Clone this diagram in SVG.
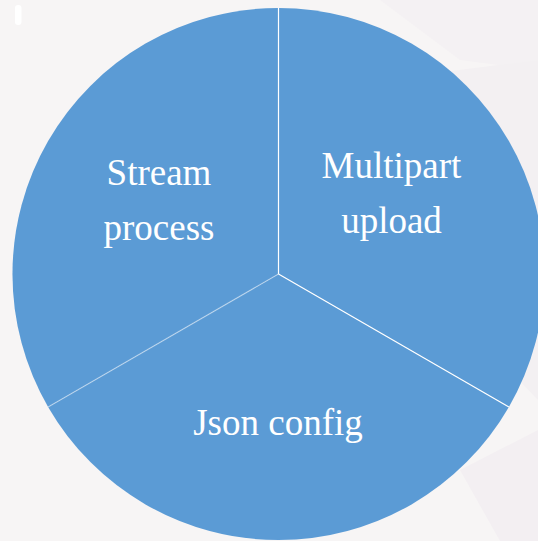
<svg xmlns="http://www.w3.org/2000/svg" width="538" height="541" viewBox="0 0 538 541">
  <style>
    .slice { fill: #5B9BD5; }
    .sep { stroke: #FFFFFF; stroke-width: 1.2; fill: none; }
    .label { font-family: "Liberation Serif", "Times New Roman", serif; font-size: 37px; fill: #FFFFFF; text-anchor: middle; }
  </style>
  <!-- backdrop -->
  <rect width="538" height="541" fill="#F7F5F5"/>
  <polygon points="380,0 538,0 538,70 460,60" fill="#F4F1F3"/>
  <polygon points="420,75 538,60 538,400 470,330" fill="#F3F0F2"/>
  <polygon points="460,470 538,430 538,541 500,541" fill="#F3EFF2"/>
  <rect x="15" y="5" width="6.5" height="20" rx="3" fill="#FFFFFF"/>

  <!-- pie slices: centre (278.5,274), r 266 -->
  <g id="slice-multipart">
    <path class="slice" d="M278.5,274 L278.5,8 A266,266 0 0 1 508.9,407 Z"/>
    <text class="label" x="391.5" y="178">Multipart</text>
    <text class="label" x="391.5" y="233">upload</text>
  </g>
  <g id="slice-json">
    <path class="slice" d="M278.5,274 L508.9,407 A266,266 0 0 1 48.1,407 Z"/>
    <text class="label" x="278" y="435">Json config</text>
  </g>
  <g id="slice-stream">
    <path class="slice" d="M278.5,274 L48.1,407 A266,266 0 0 1 278.5,8 Z"/>
    <text class="label" x="159" y="185">Stream</text>
    <text class="label" x="159" y="240">process</text>
  </g>

  <!-- slice separators -->
  <g id="connectors">
    <line class="sep" x1="278.5" y1="274" x2="278.5" y2="8"/>
    <line class="sep" x1="278.5" y1="274" x2="508.9" y2="407"/>
    <line class="sep" x1="278.5" y1="274" x2="48.1" y2="407" stroke-opacity="0.45" stroke-width="1"/>
  </g>
</svg>
